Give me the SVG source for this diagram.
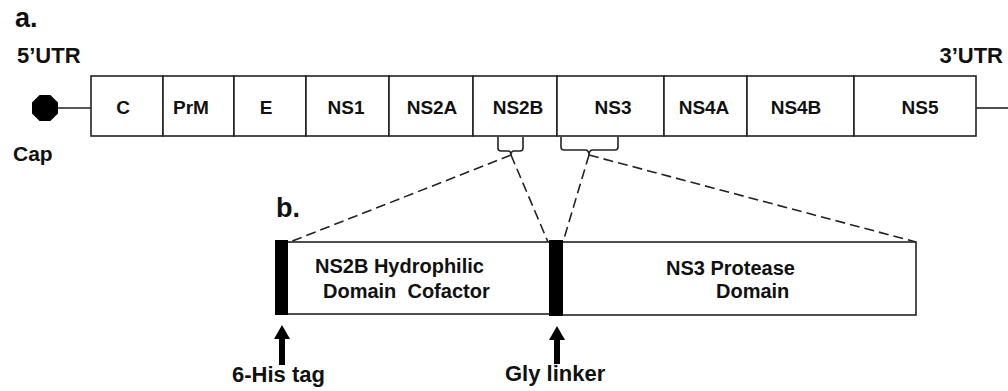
<svg xmlns="http://www.w3.org/2000/svg" width="1008" height="391" viewBox="0 0 1008 391">
  <style>
    text { font-family: "Liberation Sans", Arial, sans-serif; font-weight: bold; fill: #111; }
    .seg { fill: #fff; stroke: #222; stroke-width: 1.6; }
    .lbl { font-size: 19px; text-anchor: middle; }
    .big { font-size: 27px; }
    .utr { font-size: 22px; }
    .dom { font-size: 20px; }
    .tag { font-size: 22px; }
    .line { stroke: #222; stroke-width: 1.6; fill: none; }
    .dash { stroke: #222; stroke-width: 1.6; fill: none; stroke-dasharray: 10 5; }
    .brace { stroke: #222; stroke-width: 1.6; fill: none; }
    .bar { fill: #000; }
  </style>

  <!-- panel labels -->
  <text class="big" x="15" y="27">a.</text>
  <text class="big" x="276" y="217">b.</text>
  <text class="utr" x="17" y="63">5’UTR</text>
  <text class="utr" x="1003" y="63" text-anchor="end">3’UTR</text>
  <text class="utr" x="13" y="161" style="font-size:21px">Cap</text>

  <!-- cap and flanking strands -->
  <g id="cap">
    <polygon points="39.6,95 50.4,95 58,102.6 58,113.4 50.4,121 39.6,121 32,113.4 32,102.6" fill="#000"/>
  </g>
  <g id="connectors">
    <line class="line" x1="58" y1="108" x2="91" y2="108"/>
    <line class="line" x1="976" y1="108" x2="1008" y2="108"/>
    <!-- braces under NS2B and NS3 -->
    <path class="brace" d="M498,137 V148 Q498,151 501,151 H508 Q511,151 511,155 Q511,151 514,151 H520 Q523,151 523,148 V137"/>
    <path class="brace" d="M561,137 V147 Q561,150 564,150 H585 Q589,150 589,155 Q589,150 593,150 H615 Q618,150 618,147 V137"/>
    <!-- expansion lines -->
    <line class="dash" x1="511" y1="155" x2="290" y2="242"/>
    <line class="dash" x1="511" y1="155" x2="548" y2="242"/>
    <line class="dash" x1="589" y1="155" x2="563" y2="242"/>
    <line class="dash" x1="589" y1="155" x2="916" y2="242"/>
  </g>

  <!-- genome polyprotein segments -->
  <g id="seg-C"><rect class="seg" x="91" y="76" width="72" height="60"/><text class="lbl" x="123" y="114">C</text></g>
  <g id="seg-PrM"><rect class="seg" x="163" y="76" width="71" height="60"/><text class="lbl" x="191" y="114">PrM</text></g>
  <g id="seg-E"><rect class="seg" x="234" y="76" width="72" height="60"/><text class="lbl" x="266" y="114">E</text></g>
  <g id="seg-NS1"><rect class="seg" x="306" y="76" width="83" height="60"/><text class="lbl" x="346" y="114">NS1</text></g>
  <g id="seg-NS2A"><rect class="seg" x="389" y="76" width="84" height="60"/><text class="lbl" x="432" y="114">NS2A</text></g>
  <g id="seg-NS2B"><rect class="seg" x="473" y="76" width="84" height="60"/><text class="lbl" x="518" y="114">NS2B</text></g>
  <g id="seg-NS3"><rect class="seg" x="557" y="76" width="107" height="60"/><text class="lbl" x="613" y="114">NS3</text></g>
  <g id="seg-NS4A"><rect class="seg" x="664" y="76" width="83" height="60"/><text class="lbl" x="704" y="114">NS4A</text></g>
  <g id="seg-NS4B"><rect class="seg" x="747" y="76" width="107" height="60"/><text class="lbl" x="796" y="114">NS4B</text></g>
  <g id="seg-NS5"><rect class="seg" x="854" y="76" width="122" height="60"/><text class="lbl" x="920" y="114">NS5</text></g>

  <!-- expression construct -->
  <g id="construct-ns2b">
    <rect class="seg" x="281" y="242" width="275" height="72"/>
    <text class="dom" x="315" y="273">NS2B Hydrophilic</text>
    <text class="dom" x="323" y="298" xml:space="preserve">Domain  Cofactor</text>
  </g>
  <g id="construct-ns3">
    <rect class="seg" x="556" y="242" width="360" height="73"/>
    <text class="dom" x="666" y="275">NS3 Protease</text>
    <text class="dom" x="716" y="298">Domain</text>
  </g>
  <g id="his-tag">
    <rect class="bar" x="275" y="240" width="13" height="75"/>
    <polygon class="bar" points="282,325 274,339 290,339"/>
    <rect class="bar" x="279" y="338" width="6" height="27"/>
    <text class="tag" x="232" y="382">6-His tag</text>
  </g>
  <g id="gly-linker">
    <rect class="bar" x="549" y="240" width="14" height="76"/>
    <polygon class="bar" points="557,326 549,340 565,340"/>
    <rect class="bar" x="554" y="339" width="6" height="25"/>
    <text class="tag" x="505" y="381">Gly linker</text>
  </g>
</svg>
